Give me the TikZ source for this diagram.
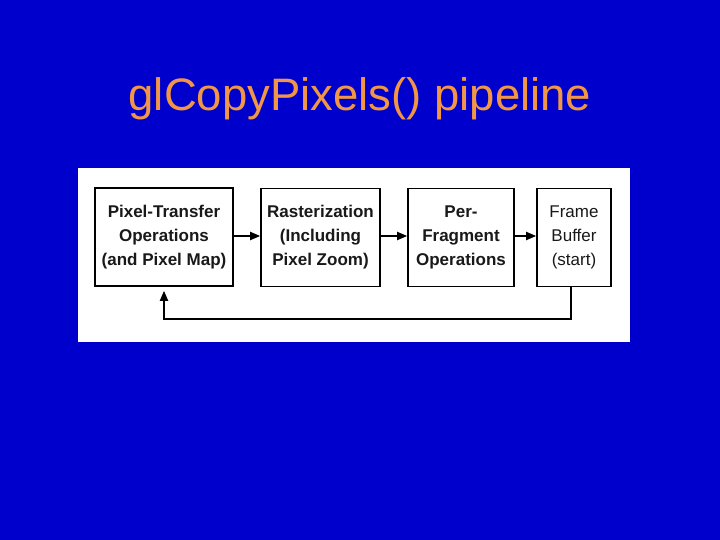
\documentclass[tikz,border=0pt]{standalone}
\usepackage{fontspec}
\setmainfont{Liberation Sans}
\usetikzlibrary{arrows.meta}
\definecolor{bgblue}{RGB}{0,0,204}
\definecolor{titleorange}{RGB}{240,150,70}
\definecolor{inkgray}{RGB}{25,25,25}
\begin{document}
\begin{tikzpicture}[x=1pt,y=-1pt,
  stagebox/.style={draw=black,line width=1.6pt,fill=white,inner sep=0pt,align=center,
     text=inkgray,font=\fontsize{17}{24}\selectfont\bfseries},
  flow/.style={draw=black,line width=1.8pt,-{Triangle[length=10pt,width=8pt]}}]
\useasboundingbox (0,0) rectangle (720,540);
\fill[bgblue] (0,0) rectangle (720,540);
\node[text=titleorange,font=\fontsize{45.5}{50}\selectfont] (title) at (360,99) {glCopyPixels() pipeline};
\fill[white] (78,168) rectangle (630,342);
\node[stagebox,minimum width=138pt,minimum height=98pt] (pt) at (164,237) {Pixel-Transfer\\Operations\\(and Pixel Map)};
\node[stagebox,minimum width=119pt,minimum height=98pt] (ras) at (320.5,237.5) {Rasterization\\(Including\\Pixel Zoom)};
\node[stagebox,minimum width=106pt,minimum height=98pt] (pf) at (461,237.5) {Per-\\Fragment\\Operations};
\node[stagebox,minimum width=74pt,minimum height=98pt,font=\fontsize{17}{24}\selectfont] (fb) at (574,237.5) {Frame\\Buffer\\(start)};
\draw[flow] (pt.east |- 0,236) -- (ras.west |- 0,236);
\draw[flow] (ras.east |- 0,236) -- (pf.west |- 0,236);
\draw[flow] (pf.east |- 0,236) -- (fb.west |- 0,236);
\coordinate (c1) at (571,319);
\coordinate (c2) at (164,319);
\draw[flow] (fb.south -| c1) -- (c1) -- (c2) -- ([yshift=-4pt]pt.south);
\end{tikzpicture}
\end{document}
